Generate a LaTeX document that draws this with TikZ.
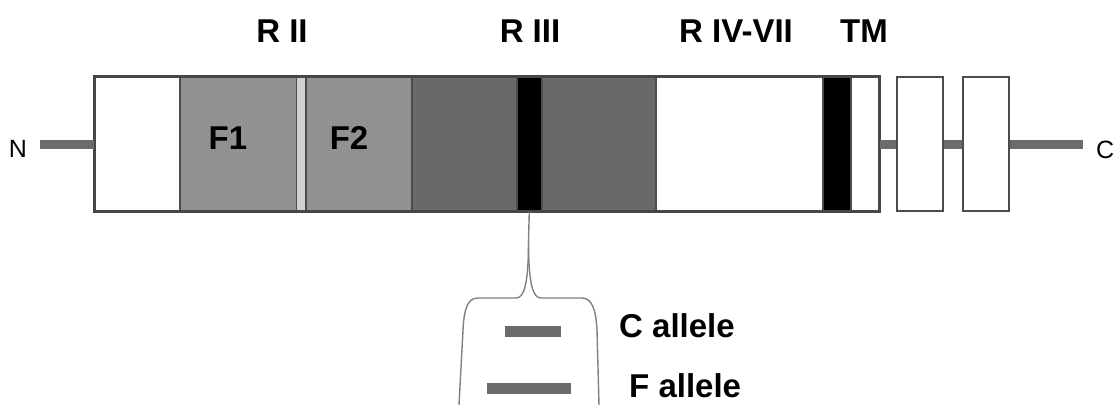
\documentclass[tikz,border=0pt]{standalone}
\usepackage{fontspec}
\setmainfont{Liberation Sans}
\begin{document}
\begin{tikzpicture}[x=1pt,y=-1pt,
  seg/.style={draw=black!70, line width=1.6pt, minimum height=134pt, inner sep=0pt, anchor=west},
  ebox/.style={draw=black!70, line width=2.4pt, fill=white, minimum height=134pt, minimum width=46pt, inner sep=0pt},
  big/.style={font=\fontsize{33}{36}\selectfont\bfseries, inner sep=0pt},
  term/.style={font=\fontsize{25}{28}\selectfont, inner sep=0pt},
  stem/.style={draw=black!58, line width=9pt},
  allele/.style={fill=black!58, draw=none, minimum height=11pt, inner sep=0pt},
  bracket/.style={draw=black!50, line width=1.4pt}]
\useasboundingbox (0,0) rectangle (1115,405);
% segments of the main bar
\node[seg, fill=white, minimum width=85pt] (w1) at (94,144) {};
\node[seg, fill=black!43, minimum width=117pt] (f1) at (179,144) {};
\node[seg, fill=black!18, draw=none, minimum width=9pt] (gap) at (296,144) {};
\node[seg, fill=black!43, minimum width=106pt] (f2) at (305,144) {};
\node[seg, fill=black!59, minimum width=105pt] (d1) at (411,144) {};
\node[seg, fill=black, minimum width=25pt] (b1) at (516,144) {};
\node[seg, fill=black!59, minimum width=114pt] (d2) at (541,144) {};
\node[seg, fill=white, minimum width=167pt] (w2) at (655,144) {};
\node[seg, fill=black, minimum width=28pt] (b2) at (822,144) {};
\node[seg, fill=white, minimum width=28pt] (w3) at (850,144) {};
\draw[black!72, line width=3pt] (w1.north west) rectangle (w3.south east);
% separate boxes
\node[ebox] (e1) at (920,144) {};
\node[ebox] (e2) at (986,144) {};
% terminal stems
\coordinate (nend) at (40,144);
\coordinate (cend) at (1083,144);
\draw[stem] (nend) -- (w1.west);
\draw[stem] (w3.east) -- (e1.west);
\draw[stem] (e1.east) -- (e2.west);
\draw[stem] (e2.east) -- (cend);
\node[term] (N) at (18,149) {N};
\node[term, anchor=west] (C) at (1096,150) {C};
% region labels
\node[big] (lr2) at (282,31) {R II};
\node[big] (lr3) at (530,31) {R III};
\node[big] (lr47) at (736,31) {R IV-VII};
\node[big] (ltm) at (864,31) {TM};
\node[big] (lf1) at (228,138) {F1};
\node[big] (lf2) at (349,138) {F2};
% expansion bracket
\coordinate (split) at (528.5,240);
\draw[bracket] (b1.south) -- (split)
  .. controls (528.5,285) and (524,298) .. (516,298) -- (478,298)
  .. controls (467,298) and (464,310) .. (463,330) -- (459,405);
\draw[bracket] (split)
  .. controls (528.5,285) and (533,298) .. (541,298) -- (582,298)
  .. controls (592,298) and (596,310) .. (597,330) -- (599,405);
% alleles
\node[allele, minimum width=56pt] (ca) at (533,331) {};
\node[allele, minimum width=84pt] (fa) at (529,388) {};
\node[big, anchor=west] (ct) at (619,326) {C allele};
\node[big, anchor=west] (ft) at (629,386) {F allele};
\end{tikzpicture}
\end{document}
